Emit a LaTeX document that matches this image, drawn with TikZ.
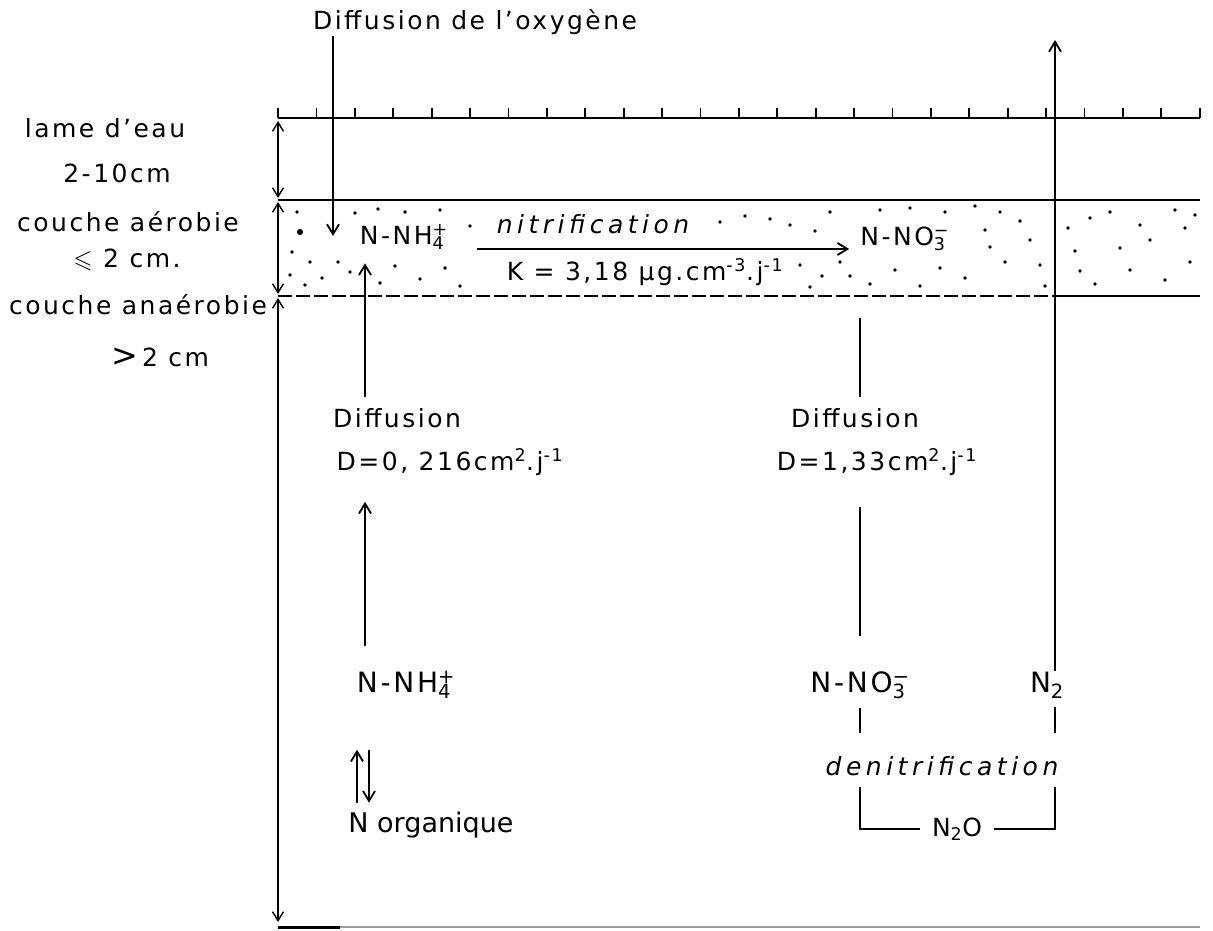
\documentclass[tikz,border=0pt]{standalone}
\usepackage{amssymb}
\usepackage{fontspec}
\setmainfont{DejaVu Sans}[LetterSpace=10]
\usetikzlibrary{arrows.meta}

\newcommand{\ionsub}[2]{\rlap{\textsuperscript{#2}}\textsubscript{#1}}

\begin{document}
\begin{tikzpicture}[x=1pt,y=-1pt]

    \tikzset{texte/.style = {font=\fontsize{25}{29}\selectfont, inner sep=1pt}}
    \tikzset{grand/.style = {font=\fontsize{28}{32}\selectfont, inner sep=1pt}}
    \tikzset{italique/.style = {font=\fontsize{25}{29}\selectfont\itshape\addfontfeature{LetterSpace=18}, inner sep=1pt}}
    \tikzset{trait/.style = {line width=1.8pt}}
    \tikzset{fleche/.style = {->,>={Straight Barb[length=10pt,width=12pt]},line width=1.8pt}}
    \tikzset{cote/.style = {<->,>={Straight Barb[length=9pt,width=11pt]},line width=1.4pt}}

    \useasboundingbox (0,0) rectangle (1213,931);


    %surface de l'eau et limites des couches
    \draw [trait] (278,118) -- (1200,118);
    \foreach \i in {0,...,24}
        \draw [trait] (278+38.4*\i,118) -- ++(0,-10);
    \draw [trait] (278,200) -- (1200,200);
    \draw [trait,dash pattern=on 14pt off 4pt] (278,296) -- (1055,296);
    \draw [trait] (1055,296) -- (1200,296);
    \draw [trait,black!40] (278,927) -- (1200,927);
    \draw [line width=3pt] (278,927) -- (340,927);


    %cotes
    \draw [cote] (278,121) -- (278,198);
    \draw [cote] (278,202) -- (278,294);
    \draw [cote] (278,298) -- (278,922);


    %pointillé de la couche aérobie
    \foreach \x/\y in {297/212, 292/252, 310/262, 290/275, 305/285, 322/278, 338/262,
        350/272, 380/283, 395/266, 420/279, 445/268, 460/286, 355/213, 378/209, 405/212,
        440/210, 470/226, 720/222, 745/216, 770/219, 790/225, 815/231, 830/212,
        800/265, 822/276, 840/262, 810/287, 850/276, 870/284, 895/270, 920/286, 940/268,
        965/278, 985/230, 990/247, 1000/212, 1005/262, 1020/221, 1030/240, 1040/265,
        1045/286, 975/206, 945/212, 910/208, 880/210, 1068/228, 1075/251, 1080/271,
        1090/218, 1095/284, 1110/212, 1120/248, 1130/270, 1140/225, 1150/240, 1165/280,
        1175/210, 1185/228, 1190/262, 1195/215}
        \fill (\x,\y) circle (1.8pt);
    \fill (300,232) circle (3pt);


    %textes de gauche
    \node [texte] (lame) at (105,128) {lame d’eau};
    \node [texte] (lameH) at (117,173) {2-10cm};
    \node [texte] (aero) at (128,222) {couche aérobie};
    \node [texte] (aeroH) at (127,260) {$\leqslant$ 2 cm.};
    \node [texte] (anaero) at (138,305) {couche anaérobie};
    \node [texte] (anaeroH) at (160,357) {\fontsize{32}{32}\selectfont >\fontsize{25}{29}\selectfont\,2 cm};


    %oxygene
    \node [texte] (titre) at (475,22) {Diffusion de l’oxygène};
    \coordinate (colO) at (333,236);
    \draw [fleche] (titre.south -| colO)
        to (colO);


    %couche aerobie
    \node [texte] (NH4haut) at (402,237) {N-NH\ionsub{4}{+}};
    \node [texte] (NO3haut) at (903,239) {N-NO\ionsub{3}{−}};
    \node [italique] (nitri) at (593,224) {nitrification};
    \node [texte] (vitesse) at (645,272) {K = 3,18 µg.cm\textsuperscript{-3}.j\textsuperscript{-1}};
    \draw [fleche] ([xshift=32pt,yshift=-12pt]NH4haut.east)
        to ([xshift=-10pt,yshift=-10pt]NO3haut.west);


    %ammonium
    \coordinate (colG) at (365,0);
    \coordinate (colA) at (357,0);
    \coordinate (colB) at (369,0);
    \node [texte] (diffG) at (397,418) {Diffusion};
    \node [texte] (coefG) at (450,462) {D=0, 216cm\textsuperscript{2}.j\textsuperscript{-1}};
    \node [grand] (NH4bas) at (404,685) {N-NH\ionsub{4}{+}};
    \node [grand, font=\fontsize{27}{31}\selectfont\addfontfeature{LetterSpace=0}] (Norg) at (431,825) {N organique};
    \draw [fleche, shorten <=10pt, shorten >=13pt] (diffG.north -| colG)
        to (NH4haut.south -| colG);
    \draw [fleche, shorten <=24pt, shorten >=25pt] (NH4bas.north -| colG)
        to (coefG.south -| colG);
    \draw [fleche, shorten <=8pt, shorten >=50pt] (Norg.north -| colA)
        to (NH4bas.south -| colA);
    \draw [fleche, shorten <=50pt, shorten >=8pt] (NH4bas.south -| colB)
        to (Norg.north -| colB);


    %nitrate et denitrification
    \coordinate (colD) at (860,0);
    \coordinate (sortie) at (1055,40);
    \node [texte] (diffD) at (855,418) {Diffusion};
    \node [texte] (coefD) at (877,462) {D=1,33cm\textsuperscript{2}.j\textsuperscript{-1}};
    \node [grand] (NO3bas) at (858,685) {N-NO\ionsub{3}{−}};
    \node [grand] (N2bas) at (1047,685) {N\textsubscript{2}};
    \node [italique] (denit) at (942,766) {denitrification};
    \node [texte, inner xsep=12pt] (N2O) at (957,829) {N\textsubscript{2}O};
    \draw [trait, shorten <=66pt, shorten >=10pt] (NO3haut.south -| colD)
        to (diffD.north -| colD);
    \draw [trait, shorten <=34pt, shorten >=30pt] (NO3bas.north -| colD)
        to (coefD.south -| colD);
    \draw [trait, shorten <=8pt, shorten >=22pt] (NO3bas.south -| colD)
        to (denit.north -| colD);
    \draw [trait, shorten <=8pt, shorten >=22pt] (N2bas.south -| sortie)
        to (denit.north -| sortie);
    \draw [trait, shorten <=10pt] (denit.south -| colD)
        |- (N2O.west);
    \draw [trait, shorten >=10pt] (N2O.east)
        -| (denit.south -| sortie);
    \draw [fleche] (N2bas.north -| sortie)
        to (sortie);

\end{tikzpicture}
\end{document}
